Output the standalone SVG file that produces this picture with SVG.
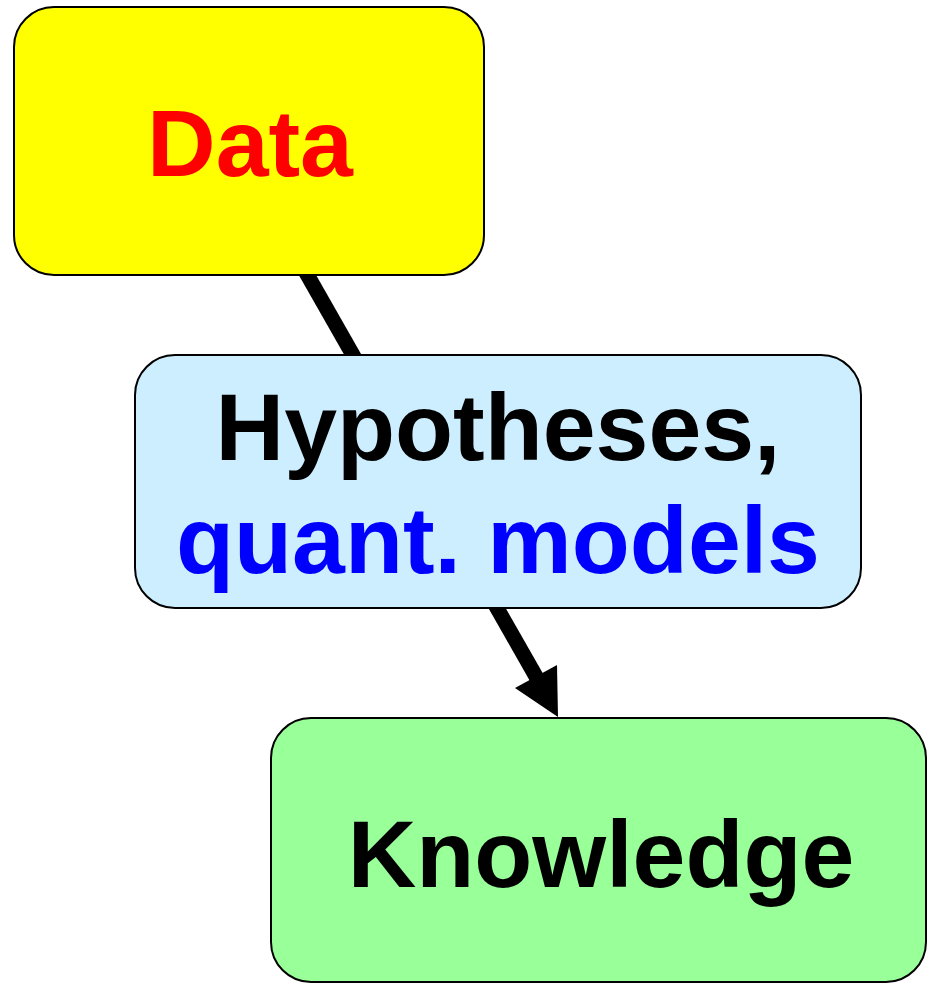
<svg xmlns="http://www.w3.org/2000/svg" width="934" height="984" viewBox="0 0 934 984">
<style>
.box{stroke:#000;stroke-width:2}
.t{font-family:"Liberation Sans",Arial,sans-serif;font-weight:bold;font-size:95px;text-anchor:middle}
</style>
<rect width="934" height="984" fill="#fff"/>
<g id="connectors">
<line x1="300" y1="262" x2="538" y2="680" stroke="#000" stroke-width="15"/>
<polygon points="558,717 515,688 557,665" fill="#000"/>
</g>
<g id="data">
<rect class="box" x="14" y="7" width="470" height="268" rx="40" fill="#ffff00"/>
<text class="t" x="250" y="176" fill="#ff0000">Data</text>
</g>
<g id="hypotheses">
<rect class="box" x="135" y="355" width="726" height="253" rx="40" fill="#cceeff"/>
<text class="t" x="498" y="460" fill="#000">Hypotheses,</text>
<text class="t" x="498" y="573" fill="#0000ff">quant. models</text>
</g>
<g id="knowledge">
<rect class="box" x="271" y="718" width="655" height="264" rx="40" fill="#99ff99"/>
<text class="t" x="601" y="887" fill="#000">Knowledge</text>
</g>
</svg>
